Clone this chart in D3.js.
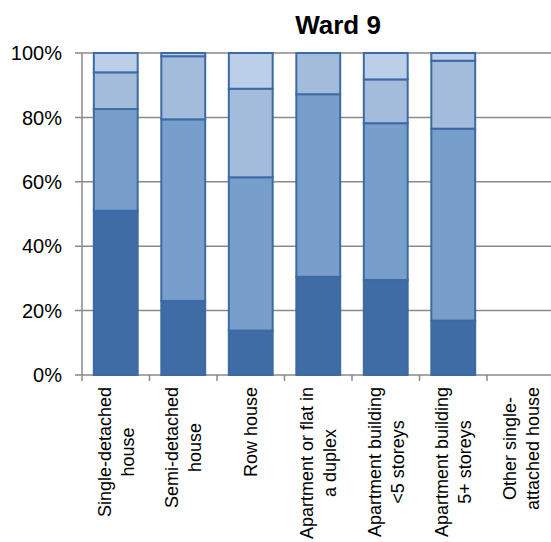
<!DOCTYPE html>
<html>
<head>
<meta charset="utf-8">
<script src="https://cdn.jsdelivr.net/npm/d3@7"></script>
<style>
  html, body { margin: 0; padding: 0; background: #fff; }
  svg { display: block; font-family: "Liberation Sans", Arial, sans-serif; }
</style>
</head>
<body>
<div id="chart"></div>
<script>
// categories (x axis), each label split in lines
const categories = [
  "Single-detached house",
  "Semi-detached house",
  "Row house",
  "Apartment or flat in a duplex",
  "Apartment building <5 storeys",
  "Apartment building 5+ storeys",
  "Other single-attached house"
];
const labelLines = [
  ["Single-detached", "house"],
  ["Semi-detached", "house"],
  ["Row house"],
  ["Apartment or flat in", "a duplex"],
  ["Apartment building", "<5 storeys"],
  ["Apartment building", "5+ storeys"],
  ["Other single-", "attached house"]
];

// series shares in % (bottom to top)
const series1 = [51.0, 23.0, 13.8, 30.5, 29.5, 16.9, 0];
const series2 = [31.6, 56.4, 47.6, 56.7, 48.7, 59.6, 0];
const series3 = [11.4, 19.6, 27.5, 12.8, 13.6, 21.1, 0];
const series4 = [6.0, 1.0, 11.1, 0, 8.2, 2.4, 0];

const yTicks = [0, 20, 40, 60, 80, 100];

(function () {
  const W = 551, H = 542;
  const mLeft = 82, mRight = 554.5, mTop = 53, mBottom = 375;
  const colors = ["#3f6ca5", "#789fcb", "#a3bcdc", "#bccfe8"];

  const svg = d3.select("#chart").append("svg")
    .attr("width", W).attr("height", H);

  const x = d3.scaleBand()
    .domain(categories)
    .range([mLeft, mRight])
    .paddingInner(0.35)
    .paddingOuter(0.175);

  const y = d3.scaleLinear().domain([0, 100]).range([mBottom, mTop]);

  // gridlines with small ticks left of the axis
  svg.append("g").selectAll("line").data(yTicks).enter().append("line")
    .attr("x1", mLeft - 7).attr("x2", W)
    .attr("y1", d => y(d)).attr("y2", d => y(d))
    .attr("stroke", "#8a8a8a").attr("stroke-width", 1.5);

  // y tick labels
  svg.append("g").selectAll("text").data(yTicks).enter().append("text")
    .attr("x", mLeft - 20).attr("y", d => y(d))
    .attr("dy", "0.36em")
    .attr("text-anchor", "end")
    .attr("font-size", 20).attr("fill", "#000")
    .text(d => d + "%");

  // left axis line
  svg.append("line")
    .attr("x1", mLeft).attr("x2", mLeft)
    .attr("y1", mTop).attr("y2", mBottom)
    .attr("stroke", "#8a8a8a").attr("stroke-width", 1.5);

  // x category boundary ticks
  const step = x.step();
  const bounds = d3.range(categories.length + 1).map(i => mLeft + i * step);
  svg.append("g").selectAll("line").data(bounds).enter().append("line")
    .attr("x1", d => d).attr("x2", d => d)
    .attr("y1", mBottom).attr("y2", mBottom + 6)
    .attr("stroke", "#8a8a8a").attr("stroke-width", 1.5);

  // stacked data
  const keys = ["s1", "s2", "s3", "s4"];
  const table = categories.map((c, i) => ({
    cat: c, s1: series1[i], s2: series2[i], s3: series3[i], s4: series4[i]
  }));
  const stacked = d3.stack().keys(keys)(table);

  svg.append("g").selectAll("g").data(stacked).enter().append("g")
    .attr("fill", (d, i) => colors[i])
    .selectAll("rect").data(d => d.filter(v => v[1] - v[0] > 0)).enter().append("rect")
    .attr("x", d => x(d.data.cat))
    .attr("width", x.bandwidth())
    .attr("y", d => y(d[1]))
    .attr("height", d => y(d[0]) - y(d[1]))
    .attr("stroke", "#3e6aa4")
    .attr("stroke-width", 2);

  // x labels, rotated; lines centred on each other, block starts below axis
  const lh = 23;
  svg.append("g").selectAll("text").data(categories).enter().append("text")
    .attr("text-anchor", "middle")
    .attr("font-size", 18).attr("fill", "#000")
    .each(function (d, i) {
      const lines = labelLines[i];
      const n = lines.length;
      const t = d3.select(this);
      t.selectAll("tspan").data(lines).enter().append("tspan")
        .attr("x", 0)
        .attr("y", (l, j) => (j - (n - 1) / 2) * lh + 6.5)
        .text(l => l);
      let maxW = 0;
      t.selectAll("tspan").each(function () {
        maxW = Math.max(maxW, this.getComputedTextLength());
      });
      t.attr("transform", `translate(${x(d) + x.bandwidth() / 2},${387 + maxW / 2}) rotate(-90)`);
    });

  // title
  svg.append("text")
    .attr("x", 338).attr("y", 34)
    .attr("text-anchor", "middle")
    .attr("font-size", 26).attr("font-weight", "bold")
    .text("Ward 9");
})();
</script>
</body>
</html>
